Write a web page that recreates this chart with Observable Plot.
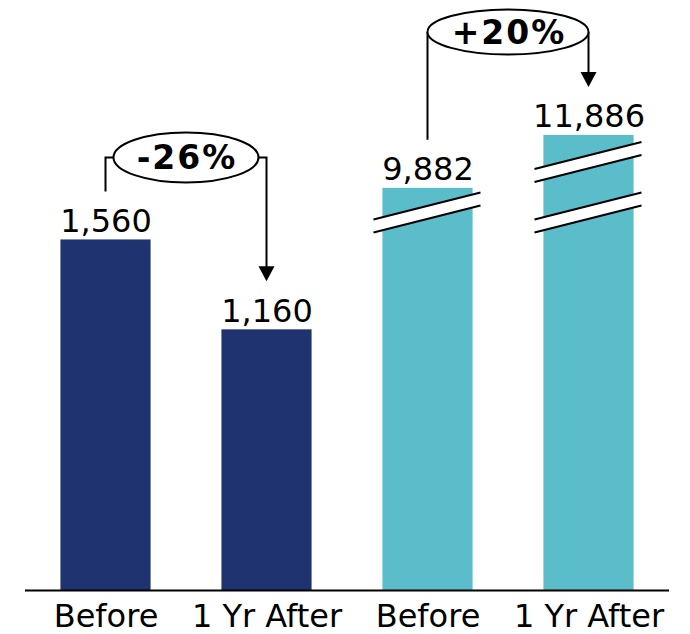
<!DOCTYPE html>
<html><head><meta charset="utf-8">
<script src="https://cdn.jsdelivr.net/npm/d3@7"></script>
<script src="https://cdn.jsdelivr.net/npm/@observablehq/plot@0.6"></script>
<style>html,body{margin:0;padding:0;background:#fff;}</style>
</head><body><div id="chart"></div>
<script>
// ---- data ----
const categories = ["Before", "1 Yr After", "Before", "1 Yr After"];
const groups = ["Group 1", "Group 1", "Group 2", "Group 2"];
const values = [1560, 1160, 9882, 11886];
const changeFrom = [0, 2];
const changeTo = [1, 3];
const changeLabels = ["-26%", "+20%"];
// axis-break marks: bar index and value at which the break is drawn
const breakBars = [2, 3, 3];
const breakAt = [1680, 1680, 10860];
// broken y axis: lower segment 0–1780, upper segment 9800–17000
const yDomain = [0, 1780, 9800, 17000];

// ---- style ----
const colors = ["#1f3370", "#5bbdc9"];
const W = 690, H = 634, MB = 44, breakPx = 190;
const annStyle = [{lift: 82, gap: 8, ry: 25}, {lift: 103, gap: 0, ry: 22.5}];
const font = "DejaVu Sans, Verdana, sans-serif";
const fmt = d3.format(",");

const bars = values.map((value, i) => ({i, value, group: groups[i], category: categories[i]}));

function breakMarks(index, scales) {
  const g = d3.create("svg:g");
  breakBars.forEach((b, k) => {
    const cx = scales.x(b), cy = scales.y(breakAt[k]);
    const xl = cx - 54, xr = cx + 53, rise = 13.5, half = 6.5;
    g.append("path")
      .attr("d", `M${xl},${cy - half + rise}L${xr},${cy - half - rise}L${xr},${cy + half - rise}L${xl},${cy + half + rise}Z`)
      .attr("fill", "white");
    g.append("path")
      .attr("d", `M${xl},${cy - half + rise}L${xr},${cy - half - rise}M${xl},${cy + half + rise}L${xr},${cy + half - rise}`)
      .attr("fill", "none").attr("stroke", "black").attr("stroke-width", 2);
  });
  return g.node();
}

function annotations(index, scales) {
  const g = d3.create("svg:g");
  changeFrom.forEach((f, k) => {
    const t = changeTo[k], s = annStyle[k];
    const x1 = scales.x(f), x2 = scales.x(t);
    const yA = scales.y(values[f]), yB = scales.y(values[t]);
    const ye = Math.min(yA, yB) - s.lift;
    const startY = yA - 48, tipY = yB - 48;
    const cx = (x1 + x2) / 2, rx = (x2 - x1) / 2 - s.gap;
    g.append("path")
      .attr("d", `M${x1},${startY}V${ye}H${cx - rx}M${cx + rx},${ye}H${x2}V${tipY - 12}`)
      .attr("fill", "none").attr("stroke", "black").attr("stroke-width", 2);
    g.append("path")
      .attr("d", `M${x2 - 8},${tipY - 15}L${x2 + 8},${tipY - 15}L${x2},${tipY}Z`)
      .attr("fill", "black");
    g.append("ellipse")
      .attr("cx", cx).attr("cy", ye).attr("rx", rx).attr("ry", s.ry)
      .attr("fill", "white").attr("stroke", "black").attr("stroke-width", 2);
    g.append("text")
      .attr("x", cx + 1).attr("y", ye).attr("dy", "0.36em")
      .attr("text-anchor", "middle")
      .attr("font-family", font).attr("font-weight", "bold")
      .attr("font-size", 33).attr("letter-spacing", 2)
      .attr("fill", "black")
      .text(changeLabels[k]);
  });
  return g.node();
}

const chart = Plot.plot({
  width: W,
  height: H,
  marginTop: 0,
  marginBottom: MB,
  marginLeft: 25,
  marginRight: 21,
  style: {fontFamily: font, fontSize: "32px", color: "black", background: "white"},
  x: {type: "linear", domain: [-0.5, 3.5], axis: null, label: null},
  y: {type: "linear", domain: yDomain, range: [H - MB, breakPx, breakPx, 0], axis: null, label: null},
  color: {domain: ["Group 1", "Group 2"], range: colors},
  marks: [
    Plot.rectY(bars, {x1: d => d.i - 0.28, x2: d => d.i + 0.28, y: "value", fill: "group"}),
    breakMarks,
    Plot.ruleY([0], {stroke: "black", strokeWidth: 2}),
    Plot.text(bars, {x: "i", y: "value", text: d => fmt(d.value), lineAnchor: "bottom", dy: -8, fontSize: 32, fill: "black"}),
    annotations,
    Plot.axisX({ticks: [0, 1, 2, 3], tickFormat: i => categories[i], tickSize: 0, tickPadding: 14, fontSize: 32, label: null})
  ]
});
document.getElementById("chart").appendChild(chart);
</script>
</body></html>
